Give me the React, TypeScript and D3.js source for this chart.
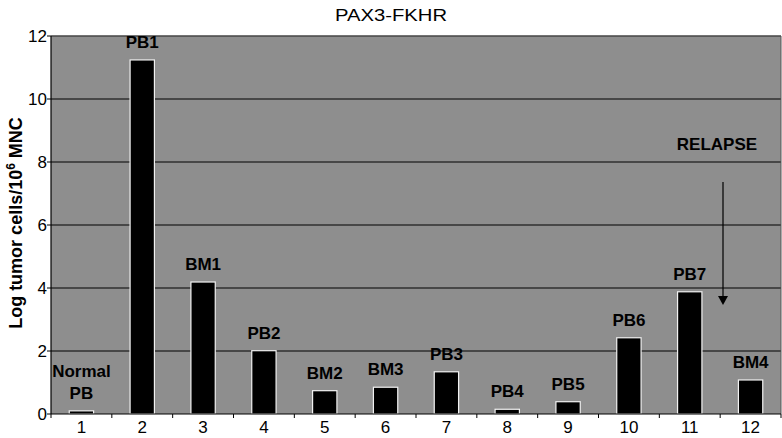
import React from "react";
import * as d3 from "d3";

// Sample index (x category), log tumor burden and sample label
const samples = ["1", "2", "3", "4", "5", "6", "7", "8", "9", "10", "11", "12"];
const logCells = [0.1, 11.24, 4.19, 2.01, 0.74, 0.85, 1.34, 0.15, 0.39, 2.42, 3.88, 1.08];
const sampleLabels = [["Normal", "PB"], ["PB1"], ["BM1"], ["PB2"], ["BM2"], ["BM3"], ["PB3"], ["PB4"], ["PB5"], ["PB6"], ["PB7"], ["BM4"]];
const yTicks = [0, 2, 4, 6, 8, 10, 12];

const W = 782;
const H = 438;
const margin = { left: 51, right: 1, top: 36, bottom: 24 };

export default function App() {
  const x = d3
    .scaleBand<string>()
    .domain(samples)
    .range([margin.left, W - margin.right])
    .paddingInner(0.6)
    .paddingOuter(0.3);
  const step = x.step();
  const y = d3.scaleLinear().domain([0, 12]).range([H - margin.bottom, margin.top]);
  const x0 = margin.left;
  const x1 = W - margin.right;
  const font = "Liberation Sans, Arial, Helvetica, sans-serif";

  return (
    <svg
      width={W}
      height={H}
      style={{ position: "absolute", left: 0, top: 0, background: "#fff" }}
      fontFamily={font}
    >
      <rect x={x0} y={y(12)} width={x1 - x0} height={y(0) - y(12)} fill="#8e8e8e" />
      {yTicks.filter((t) => t > 0 && t < 12).map((t) => (
        <line key={t} x1={x0} x2={x1} y1={y(t)} y2={y(t)} stroke="#000" strokeWidth={1.2} />
      ))}
      <line x1={x0} x2={x1} y1={y(12)} y2={y(12)} stroke="#444" strokeWidth={1.5} />
      <line x1={x1} x2={x1} y1={y(12)} y2={y(0)} stroke="#555" strokeWidth={1} />

      {samples.map((s, i) => (
        <rect
          key={s}
          x={x(s)}
          y={y(logCells[i])}
          width={x.bandwidth()}
          height={y(0) - y(logCells[i])}
          fill="#000"
          stroke="#f2f2f2"
          strokeWidth={1.2}
        />
      ))}

      {samples.map((s, i) => {
        const cx = (x(s) as number) + x.bandwidth() / 2;
        const lines = sampleLabels[i];
        const base = y(logCells[i]) - 12;
        return (
          <text key={s} x={cx} textAnchor="middle" fontSize={17} fontWeight="bold" fill="#000">
            {lines.map((l, j) => (
              <tspan key={j} x={cx} y={base - (lines.length - 1 - j) * 22}>
                {l}
              </tspan>
            ))}
          </text>
        );
      })}

      {/* axes */}
      <line x1={x0} x2={x0} y1={y(12)} y2={y(0)} stroke="#000" strokeWidth={1.2} />
      <line x1={x0} x2={x1} y1={y(0)} y2={y(0)} stroke="#000" strokeWidth={1.2} />
      {yTicks.map((t) => (
        <g key={t}>
          <line x1={x0 - 4} x2={x0} y1={y(t)} y2={y(t)} stroke="#000" />
          <text x={x0 - 4} y={y(t) + 6} textAnchor="end" fontSize={17}>
            {t}
          </text>
        </g>
      ))}
      {d3.range(samples.length + 1).map((i) => (
        <line
          key={i}
          x1={x0 + i * step}
          x2={x0 + i * step}
          y1={y(0)}
          y2={y(0) + 4}
          stroke="#000"
        />
      ))}
      {samples.map((s) => (
        <text
          key={s}
          x={(x(s) as number) + x.bandwidth() / 2}
          y={y(0) + 19}
          textAnchor="middle"
          fontSize={17}
        >
          {s}
        </text>
      ))}

      <text
        x={W / 2}
        y={21}
        textAnchor="middle"
        fontSize={16}
        textLength={112}
        lengthAdjust="spacingAndGlyphs"
      >
        PAX3-FKHR
      </text>
      <text
        transform={`translate(22, ${(y(0) + y(12)) / 2 - 2}) rotate(-90)`}
        textAnchor="middle"
        fontSize={18}
        fontWeight="bold"
      >
        Log tumor cells/10
        <tspan dy={-7} fontSize={12}>6</tspan>
        <tspan dy={7}> MNC</tspan>
      </text>

      {/* relapse marker */}
      <text x={717} y={150} textAnchor="middle" fontSize={17} fontWeight="bold">
        RELAPSE
      </text>
      <line x1={723} x2={723} y1={182} y2={298} stroke="#000" strokeWidth={1.2} />
      <path d="M718,296 L728,296 L723,305 Z" fill="#000" />
    </svg>
  );
}
